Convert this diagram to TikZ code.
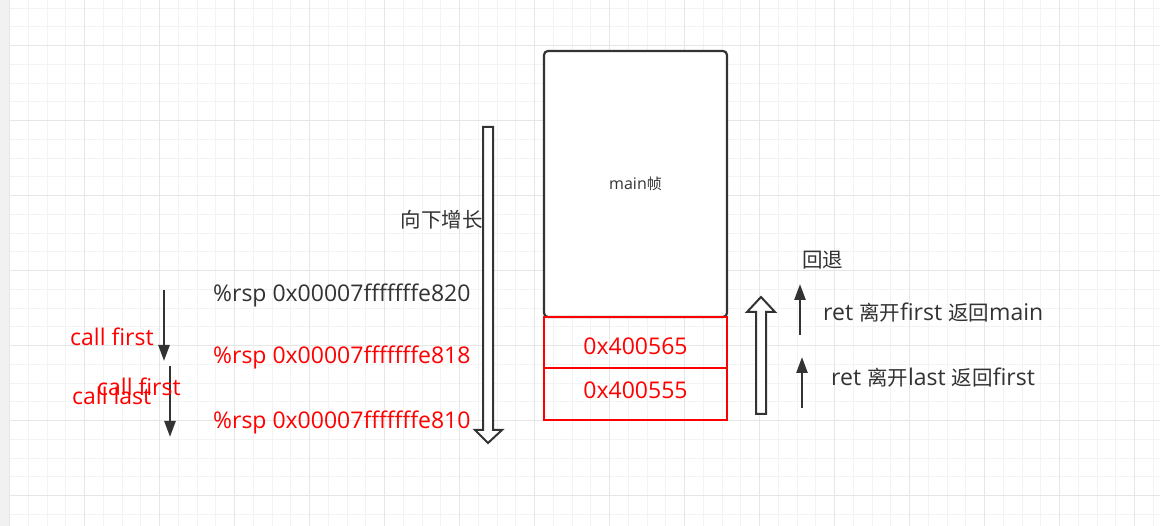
\documentclass[tikz,border=0pt]{standalone}
\usepackage{fontspec}
\setmainfont{Open Sans}
\newfontfamily\cjk{Noto Sans CJK SC}
\newcommand\zh[1]{{\cjk\fontsize{20.5}{24}\selectfont #1}}
\usetikzlibrary{arrows.meta, positioning}

\begin{document}
\begin{tikzpicture}[x=1pt,y=-1pt,
  grid minor/.style={draw=gridlight,line width=1pt},
  grid major/.style={draw=griddark,line width=1pt},
  lbl/.style={inner sep=0pt,font=\fontsize{23}{26}\selectfont},
  redbox/.style={draw=stackred,line width=2pt,minimum width=183pt,outer sep=0pt},
  hollow/.style={draw=ink,fill=white,line width=2pt,line join=miter},
  thinarrow/.style={draw=ink,line width=2.5pt,-{Triangle[length=16pt,width=11pt]}}]
  \definecolor{ink}{HTML}{333333}
  \definecolor{stackred}{HTML}{FF0000}
  \definecolor{gridlight}{HTML}{F3F3F3}
  \definecolor{griddark}{HTML}{E6E6E6}
  \definecolor{strip}{HTML}{F1F1F1}

  % background grid
  \useasboundingbox (0,0) rectangle (1160,526);
  \fill[white] (0,0) rectangle (1160,526);
  \fill[strip] (0,0) rectangle (9,526);
  \foreach \i in {0,...,61}
    \draw[grid minor] ({9.5+18.75*\i},0) -- ++(0,526);
  \foreach \j in {0,...,27}
    \draw[grid minor] (9,{8.2+18.75*\j}) -- (1160,{8.2+18.75*\j});
  \foreach \i in {0,...,15}
    \draw[grid major] ({9.5+75*\i},0) -- ++(0,526);
  \foreach \j in {0,...,6}
    \draw[grid major] (9,{45.7+75*\j}) -- (1160,{45.7+75*\j});

  % the stack
  \node[draw=ink,line width=2.2pt,rounded corners=4pt,fill=white,outer sep=0pt,
        minimum width=183pt,minimum height=266pt,anchor=north west,
        text=ink,font=\fontsize{16}{18}\selectfont] (mainframe) at (544,51)
        {main{\cjk\fontsize{15}{18}\selectfont 帧}};
  \node[redbox,minimum height=51pt,below=0pt of mainframe] (ret1) {};
  \node[redbox,minimum height=52pt,below=0pt of ret1] (ret2) {};
  \node[lbl,text=stackred] (ret1val) at ([yshift=-4pt]ret1.center) {0x400565};
  \node[lbl,text=stackred] (ret2val) at ([yshift=4pt]ret2.center) {0x400555};

  % grows down
  \draw[hollow] (483,127) -- (493,127) -- (493,430) -- (502,430) -- (488,443)
    -- (475,430) -- (483,430) -- cycle;
  \node[lbl,text=ink,anchor=east] (grow) at (483,220) {\zh{向下增长}};

  % rsp values
  \node[lbl,text=ink,anchor=west] (rsp0) at (213,295) {\%rsp 0x00007fffffffe820};
  \node[lbl,text=stackred,anchor=west] (rsp1) at (213,357) {\%rsp 0x00007fffffffe818};
  \node[lbl,text=stackred,anchor=west] (rsp2) at (213,422) {\%rsp 0x00007fffffffe810};

  % calls
  \coordinate (callA) at (164,290);
  \coordinate (callB) at (164,361);
  \coordinate (callC) at (170,366);
  \coordinate (callD) at (170,437);
  \draw[thinarrow] (callA) -- (callB);
  \draw[thinarrow] (callC) -- (callD);
  \node[lbl,text=stackred,anchor=west] (firstcall) at (70,337) {call first};
  \node[lbl,text=stackred,anchor=west] (lastcall) at (72,396) {call last};
  \node[lbl,text=stackred,anchor=west] (againcall) at (97,387) {call first};

  % unwinding
  \draw[hollow] (756,414) -- (766,414) -- (766,312) -- (775,312) -- (761,297)
    -- (747,312) -- (756,312) -- cycle;
  \coordinate (retA) at (800,335);
  \coordinate (retB) at (800,284);
  \coordinate (retC) at (802,408);
  \coordinate (retD) at (802,357);
  \draw[thinarrow] (retA) -- (retB);
  \draw[thinarrow] (retC) -- (retD);
  \node[lbl,text=ink,anchor=west] (back) at (802,260) {\zh{回退}};
  \node[lbl,text=ink,anchor=west] (retmain) at (823,313) {ret \zh{离开}first \zh{返回}main};
  \node[lbl,text=ink,anchor=west] (retfirst) at (831,378) {ret \zh{离开}last \zh{返回}first};
\end{tikzpicture}
\end{document}
